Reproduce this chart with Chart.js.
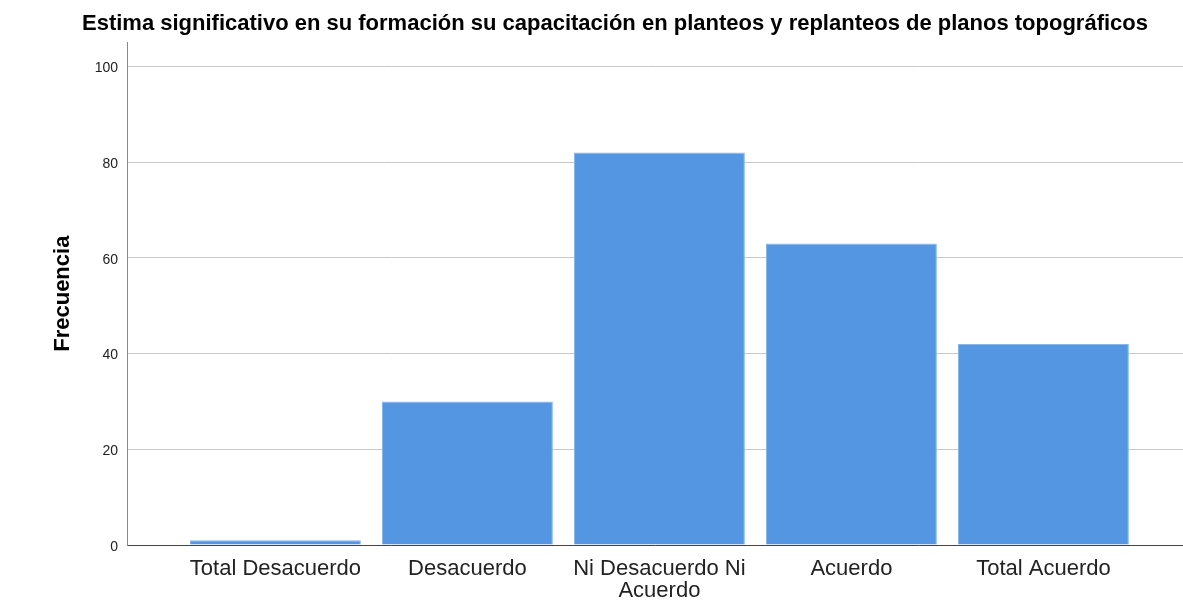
<!DOCTYPE html>
<html>
<head>
<meta charset="utf-8">
<script src="https://cdn.jsdelivr.net/npm/chart.js@4/dist/chart.umd.min.js"></script>
<style>
  body { margin: 0; background: #fff; }
  #wrap { width: 1183px; height: 600px; }
</style>
</head>
<body>
<div id="wrap"><canvas id="bar-chart" width="1183" height="600"></canvas></div>
<script>
const categories = ["Total Desacuerdo", "Desacuerdo", ["Ni Desacuerdo Ni", "Acuerdo"], "Acuerdo", "Total Acuerdo"];
const frecuencia = [1, 30, 82, 63, 42];
const yTicks = [0, 20, 40, 60, 80, 100];

const points = frecuencia.map((v, i) => ({ x: i + 1, y: v }));

// shift the title box so it centres like the reference
const titleShift = {
  id: "titleShift",
  afterLayout(chart) {
    if (chart.titleBlock) {
      chart.titleBlock.left = 47;
      chart.titleBlock.right = 1183;
    }
  }
};

const chart = new Chart(document.getElementById("bar-chart"), {
  type: "bar",
  data: {
    datasets: [{
      data: points,
      backgroundColor: "#5596e3",
      borderColor: "#86b6ec",
      borderWidth: 1,
      barPercentage: 0.89,
      categoryPercentage: 1
    }]
  },
  plugins: [titleShift],
  options: {
    responsive: false,
    animation: false,
    layout: { padding: 0 },
    plugins: {
      legend: { display: false },
      tooltip: { enabled: false },
      title: {
        display: true,
        text: "Estima significativo en su formación su capacitación en planteos y replanteos de planos topográficos",
        color: "#000",
        font: { family: "Liberation Sans, Arial", size: 22, weight: "bold" },
        padding: { top: 11, bottom: 5 }
      }
    },
    scales: {
      x: {
        type: "linear",
        offset: false,
        min: 0.227,
        max: 5.727,
        afterBuildTicks: scale => { scale.ticks = categories.map((c, i) => ({ value: i + 1 })); },
        afterFit: scale => { scale.height = 55; },
        grid: { display: false, drawTicks: false },
        border: { color: "#444", width: 1 },
        ticks: {
          autoSkip: false,
          maxRotation: 0,
          padding: 13,
          color: "#222",
          font: { family: "Liberation Sans, Arial", size: 22, lineHeight: 1 },
          callback: v => categories[v - 1]
        }
      },
      y: {
        min: 0,
        max: 105,
        afterBuildTicks: scale => { scale.ticks = yTicks.map(v => ({ value: v })); },
        afterFit: scale => { scale.width = 127; },
        grid: { color: "#c8c8c8", drawTicks: false },
        border: { color: "#8a8a8a", width: 1 },
        ticks: {
          padding: 9,
          labelOffset: 2,
          color: "#222",
          font: { family: "Liberation Sans, Arial", size: 14 }
        },
        title: {
          display: true,
          text: "Frecuencia",
          color: "#000",
          font: { family: "Liberation Sans, Arial", size: 22, weight: "bold" },
          padding: { top: 50, bottom: 0 }
        }
      }
    }
  }
});
</script>
</body>
</html>
